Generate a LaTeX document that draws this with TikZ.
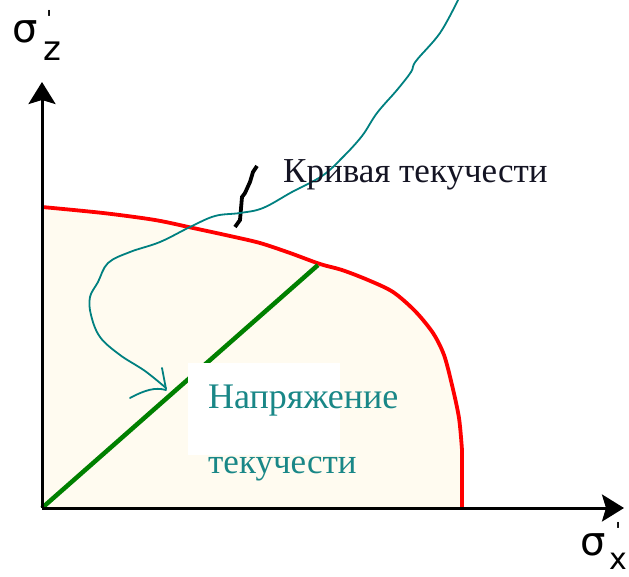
\documentclass[tikz,border=0pt]{standalone}
\usepackage{fontspec}
\setmainfont{Liberation Serif}
\newfontfamily\symfont{DejaVu Sans}
\usetikzlibrary{arrows.meta}
\definecolor{cream}{RGB}{255,251,240}
\definecolor{curvered}{RGB}{255,0,0}
\definecolor{linegreen}{RGB}{0,128,0}
\definecolor{tealline}{RGB}{0,128,128}
\definecolor{tealtext}{RGB}{25,135,135}
\definecolor{darktext}{RGB}{20,20,35}
\tikzset{
  axis/.style={line width=3pt, -{Stealth[length=22pt,width=27pt,inset=4pt]}},
  yieldcurve/.style={curvered, line width=3.8pt},
  loadpath/.style={linegreen, line width=4.5pt},
  pointer/.style={tealline, line width=1.8pt, line cap=round, line join=round},
  tick/.style={black, line width=3.8pt},
  label/.style={inner sep=0pt, anchor=base west, font=\fontsize{35}{40}\selectfont},
  symlabel/.style={inner sep=0pt, font=\symfont\fontsize{40}{44}\selectfont}
}
\begin{document}
\begin{tikzpicture}[x=1pt,y=-1pt]
\useasboundingbox (0,0) rectangle (629,577);
% filled region
\fill[cream] (42,508) -- (42,207) -- plot[smooth] coordinates {(42,207) (103,213) (155,220) (193,228) (230,236) (260,243) (290,253) (320,264) (342,270) (368,280) (393,292) (415,311) (433,333) (444,355) (452,385) (459,418) (462,450)} -- (462,508) -- cycle;
% yield curve
\draw[yieldcurve] plot[smooth] coordinates {(42,207) (103,213) (155,220) (193,228) (230,236) (260,243) (290,253) (320,264) (342,270) (368,280) (393,292) (415,311) (433,333) (444,355) (452,385) (459,418) (462,450)} -- (462,508);
% loading path
\coordinate (O) at (42,508);
\coordinate (Y) at (318,265);
\draw[loadpath] (O) -- (Y);
% white box behind the label
\node[fill=white, minimum width=152pt, minimum height=92pt, inner sep=0pt, anchor=north west] (box) at (188,363) {};
% axes
\coordinate (ytop) at (42,82);
\coordinate (xend) at (624,508);
\draw[axis] (O) -- (ytop);
\draw[axis] (O) -- (xend);
% axis labels
\node[symlabel, anchor=north west] (sz) at (12,20) {σ};
\node[symlabel, anchor=north west, font=\symfont\fontsize{22}{24}\selectfont] (pz) at (46,10) {'};
\node[symlabel, anchor=north west, font=\symfont\fontsize{34}{36}\selectfont] (zz) at (43,42) {z};
\node[symlabel, anchor=north west] (sx) at (580,533) {σ};
\node[symlabel, anchor=north west, font=\symfont\fontsize{22}{24}\selectfont] (px) at (615,522) {'};
\node[symlabel, anchor=north west, font=\symfont\fontsize{30}{32}\selectfont] (xx) at (609,553) {x};
% black tick
\draw[tick] (235,227) -- (240,220) -- (242,197) -- (245,193) -- (250,182) -- (253,172) -- (257,166);
% teal pointer curve
\draw[pointer] plot[smooth, tension=0.6] coordinates {(458,0) (440,33) (416,61) (411,72) (397,90) (377,113) (362,136) (342,158) (322,176) (292,192) (263,208) (240,213) (215,216) (190,227) (160,242) (130,252) (108,263) (98,282) (90,297) (91,315) (100,337) (120,355) (145,371) (166,388)};
\draw[pointer] (162,368) -- (166,389);
\draw[pointer] (130,398) .. controls (145,390) and (155,387) .. (166,390);
% labels
\node[label, text=darktext] (kt) at (283,183) {Кривая текучести};
\node[label, text=tealtext, font=\fontsize{36}{40}\selectfont] (n1) at (208,408) {Напряжение};
\node[label, text=tealtext] (n2) at (208,473) {текучести};
\end{tikzpicture}
\end{document}
